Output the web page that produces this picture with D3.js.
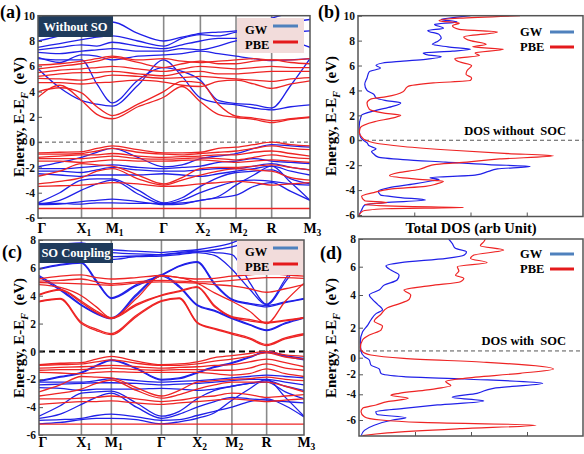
<!DOCTYPE html>
<html><head><meta charset="utf-8">
<script src="https://cdn.jsdelivr.net/npm/d3@7"></script>
<style>body{margin:0;background:#fff}</style>
</head><body><svg id="c" width="584" height="454" xmlns="http://www.w3.org/2000/svg"></svg>
<script>
// ---------- data ----------
const kLabels = [["Γ",""],["X","1"],["M","1"],["Γ",""],["X","2"],["M","2"],["R",""],["M","3"]];
const kTicks = [0, 0.16, 0.273, 0.462, 0.597, 0.728, 0.859, 1];
// sample k-positions (high-symmetry points and segment midpoints)
const kSample = [0, 0.08, 0.16, 0.2165, 0.273, 0.3675, 0.462, 0.5295, 0.597, 0.6625, 0.728, 0.7935, 0.859, 0.9295, 1];
const yTicksA = [-6,-4,-2,0,2,4,6,8,10];
const yTicksC = [-6,-4,-2,0,2,4,6,8];
const yTicksD = [-6,-4,-2,0,2,4,6,8];
const legendNames = ["GW","PBE"];

// (a) without SO : PBE bands
const pbeBandsA = [
 [3.55,4.5,3.3,2.2,1.85,2.8,3.55,4.4,3.2,2.2,1.95,1.8,1.55,1.8,1.95],
 [4.0,4.3,3.9,2.8,2.1,3.0,4.0,4.8,4.7,3.0,2.05,1.9,1.7,1.85,2.0],
 [4.7,4.7,4.6,4.7,4.75,4.9,4.75,4.5,4.4,4.8,4.9,4.6,4.25,4.6,4.85],
 [5.05,5.0,4.9,5.1,5.3,5.2,5.05,5.1,5.2,5.1,5.0,4.9,4.8,5.0,5.1],
 [5.2,5.4,5.5,5.5,5.6,5.4,5.25,5.5,5.6,5.4,5.4,5.5,5.6,5.6,5.6],
 [5.5,5.7,5.8,5.9,6.0,5.8,5.6,5.8,6.0,5.9,5.8,5.9,6.0,5.9,5.9],
 [5.8,6.0,6.2,6.4,6.7,6.3,5.9,6.2,6.4,6.2,6.2,6.4,6.5,6.3,6.2],
 [6.1,6.2,6.4,6.6,6.8,6.5,6.6,6.4,6.3,6.4,6.5,6.6,6.5,6.5,6.6],
 [-0.85,-0.8,-0.75,-0.5,-0.3,-0.6,-0.85,-0.85,-0.8,-0.5,-0.4,-0.2,0.0,-0.2,-0.3],
 [-0.95,-0.95,-0.9,-0.7,-0.5,-0.8,-0.95,-1.0,-0.9,-0.8,-0.7,-0.5,-0.3,-0.5,-0.6],
 [-1.2,-1.1,-1.0,-1.0,-0.9,-1.1,-1.2,-1.15,-1.1,-1.0,-1.0,-0.8,-0.7,-0.9,-1.1],
 [-1.3,-1.3,-1.3,-1.2,-1.1,-1.3,-1.35,-1.3,-1.25,-1.3,-1.4,-1.2,-1.0,-1.2,-1.3],
 [-1.5,-1.5,-1.6,-1.5,-1.4,-1.5,-1.5,-1.45,-1.4,-1.5,-1.6,-1.5,-1.4,-1.5,-1.6],
 [-2.7,-2.3,-1.7,-1.8,-1.9,-2.6,-3.3,-2.8,-2.1,-2.0,-2.0,-1.9,-1.8,-2.0,-2.2],
 [-3.3,-3.1,-2.8,-2.3,-2.1,-2.9,-3.4,-3.0,-2.6,-2.3,-2.1,-2.2,-2.3,-2.8,-3.0],
 [-3.5,-3.45,-3.4,-3.3,-3.2,-3.3,-3.5,-3.45,-3.3,-3.2,-3.1,-3.2,-3.4,-3.3,-3.2],
 [-5.25,-5.25,-5.25,-5.25,-5.25,-5.25,-5.25,-5.25,-5.25,-5.25,-5.25,-5.25,-5.25,-5.25,-5.25]
];
// (a) without SO : GW bands
const gwBandsA = [
 [5.8,4.3,3.3,3.0,2.85,4.5,6.5,5.2,3.5,3.1,2.95,2.7,2.55,2.8,2.95],
 [6.6,6.5,6.5,4.6,3.1,4.9,5.9,5.6,4.9,3.3,3.05,2.95,2.7,4.5,6.6],
 [6.7,6.3,6.9,6.8,6.5,6.8,6.9,7.0,7.2,7.0,6.8,6.6,6.45,6.5,6.6],
 [7.1,7.0,7.2,7.3,7.4,7.2,7.2,7.4,7.3,7.6,8.0,8.2,8.3,8.0,7.5],
 [7.3,7.5,7.7,7.6,7.9,7.6,7.4,7.7,8.0,8.2,8.2,8.4,8.6,8.7,8.8],
 [7.5,7.8,8.1,8.3,8.4,8.0,7.6,8.2,8.5,8.4,8.7,8.9,9.2,9.5,9.7],
 [8.0,8.4,9.0,9.3,9.5,8.6,8.0,8.3,8.6,8.7,8.8,9.2,9.8,10.2,10.5],
 [-1.95,-1.6,-1.2,-0.8,-0.5,-1.2,-1.95,-1.8,-1.3,-1.1,-0.9,-0.5,-0.2,-0.3,-0.4],
 [-2.1,-2.1,-2.0,-1.9,-1.8,-2.0,-2.1,-2.0,-1.9,-1.6,-1.5,-1.3,-1.5,-1.6,-1.7],
 [-2.3,-2.3,-2.4,-2.2,-2.0,-2.2,-2.3,-2.3,-2.2,-2.1,-2.1,-1.9,-1.7,-2.0,-2.2],
 [-2.5,-2.6,-2.7,-2.6,-2.6,-2.6,-2.5,-2.6,-2.7,-2.5,-2.3,-2.1,-1.9,-2.3,-2.6],
 [-4.8,-4.0,-3.0,-2.9,-2.9,-3.8,-4.8,-4.4,-3.5,-2.8,-2.4,-2.3,-2.2,-2.9,-3.3],
 [-4.9,-4.6,-3.8,-3.3,-3.0,-4.1,-4.9,-4.6,-4.0,-3.5,-3.1,-3.0,-3.1,-3.3,-3.4],
 [-4.95,-4.9,-4.7,-4.6,-4.5,-4.7,-4.95,-4.9,-4.6,-4.4,-4.2,-3.5,-3.2,-3.9,-4.6],
 [-4.85,-4.85,-4.9,-4.8,-4.8,-4.85,-4.85,-4.8,-4.6,-4.3,-3.4,-2.6,-1.9,-3.2,-4.6]
];
// (c) SO coupling : PBE bands
const pbeBandsC = [
 [3.55,3.75,2.0,1.5,1.2,2.5,3.6,3.8,2.05,1.6,1.25,0.9,0.42,0.9,1.2],
 [3.6,3.8,2.1,1.6,1.28,2.6,3.65,3.85,2.1,1.65,1.32,0.98,0.5,0.98,1.27],
 [4.05,4.4,3.5,2.8,2.35,3.3,4.0,4.3,4.6,3.2,2.45,2.2,2.05,2.2,2.4],
 [4.1,4.45,3.6,2.9,2.42,3.4,4.05,4.35,4.65,3.3,2.5,2.3,2.1,2.25,2.45],
 [4.8,4.6,4.0,3.2,2.4,3.8,5.4,5.3,4.9,4.2,3.6,2.9,2.0,3.6,4.9],
 [4.95,4.9,4.85,4.8,4.75,4.9,5.0,4.95,4.9,4.8,4.7,4.5,4.25,4.5,4.8],
 [5.05,5.1,5.2,5.0,4.85,5.0,5.1,5.05,5.0,5.0,5.1,5.2,5.3,5.3,5.25],
 [5.2,5.4,5.5,5.3,5.2,5.3,5.45,5.3,5.2,5.25,5.4,5.5,5.6,5.5,5.4],
 [-0.95,-0.85,-0.8,-0.55,-0.35,-0.7,-0.95,-0.9,-0.75,-0.45,-0.3,-0.15,0.0,-0.25,-0.35],
 [-1.0,-0.95,-0.9,-0.75,-0.6,-0.85,-1.0,-1.0,-0.9,-0.7,-0.55,-0.35,-0.1,-0.4,-0.55],
 [-1.2,-1.15,-1.1,-1.05,-1.0,-1.1,-1.2,-1.15,-1.1,-1.0,-0.95,-0.75,-0.55,-0.8,-1.1],
 [-1.35,-1.3,-1.3,-1.25,-1.2,-1.3,-1.35,-1.3,-1.3,-1.35,-1.35,-1.2,-0.9,-1.2,-1.35],
 [-1.5,-1.55,-1.6,-1.5,-1.45,-1.5,-1.5,-1.5,-1.5,-1.6,-1.7,-1.6,-1.25,-1.6,-1.8],
 [-2.9,-2.4,-1.8,-1.85,-1.9,-2.6,-3.2,-2.8,-2.2,-2.1,-2.0,-1.95,-1.85,-2.0,-2.1],
 [-3.2,-3.0,-2.7,-2.3,-2.05,-2.8,-3.35,-3.1,-2.7,-2.4,-2.2,-2.2,-2.2,-2.5,-2.9],
 [-3.4,-3.4,-3.35,-3.3,-3.2,-3.4,-3.6,-3.5,-3.3,-3.2,-3.0,-3.1,-3.3,-3.2,-3.1],
 [-3.8,-3.7,-3.6,-3.6,-3.55,-3.7,-3.8,-3.7,-3.6,-3.5,-3.4,-3.5,-3.6,-3.5,-3.4],
 [-5.22,-5.22,-5.22,-5.22,-5.22,-5.22,-5.22,-5.22,-5.22,-5.22,-5.22,-5.22,-5.22,-5.22,-5.22]
];
// (c) SO coupling : GW bands
const gwBandsC = [
 [5.35,4.4,3.3,2.7,2.35,4.0,5.4,4.6,3.3,2.9,2.35,1.9,1.5,2.0,2.4],
 [5.45,4.5,3.35,2.75,2.42,4.1,5.5,4.7,3.35,2.95,2.42,1.95,1.55,2.05,2.45],
 [5.9,6.2,6.35,5.0,3.8,4.7,5.45,6.1,6.4,4.8,3.7,3.4,3.2,3.5,3.75],
 [5.95,6.25,6.4,5.1,3.85,4.8,5.5,6.15,6.45,4.9,3.75,3.45,3.3,3.55,3.8],
 [6.8,6.7,6.6,6.65,6.6,6.8,6.85,6.95,7.1,6.9,5.9,4.5,3.35,5.0,6.9],
 [7.0,7.1,7.2,6.9,6.8,6.85,6.95,7.1,7.2,7.1,6.95,5.0,3.4,5.2,7.3],
 [7.3,7.35,7.4,7.2,7.1,7.0,6.95,7.05,7.15,7.3,7.5,7.9,8.2,8.5,8.7],
 [7.6,7.7,7.8,7.5,7.3,7.2,7.1,7.2,7.3,7.5,7.8,8.3,8.8,9.0,9.2],
 [-2.1,-1.8,-1.5,-1.0,-0.6,-1.2,-2.0,-1.9,-1.5,-1.1,-0.8,-0.4,0.0,-0.3,-0.5],
 [-2.15,-1.85,-1.55,-1.05,-0.65,-1.25,-2.05,-1.95,-1.55,-1.15,-0.85,-0.45,-0.05,-0.35,-0.6],
 [-2.2,-2.2,-2.2,-2.1,-1.95,-2.1,-2.2,-2.15,-2.1,-2.0,-1.9,-1.8,-1.7,-1.8,-1.9],
 [-2.4,-2.35,-2.3,-2.25,-2.25,-2.3,-2.4,-2.35,-2.3,-2.2,-2.1,-2.0,-2.0,-2.2,-2.4],
 [-2.6,-2.65,-2.8,-2.7,-2.7,-2.7,-2.65,-2.7,-2.8,-2.7,-2.5,-2.3,-2.1,-2.5,-2.8],
 [-4.65,-3.9,-3.0,-2.9,-2.85,-3.7,-4.65,-4.3,-3.4,-2.8,-2.5,-2.3,-2.2,-2.9,-3.4],
 [-4.8,-4.5,-3.8,-3.3,-3.0,-4.0,-4.8,-4.5,-4.0,-3.6,-3.3,-3.4,-3.5,-3.6,-3.7],
 [-4.95,-4.9,-4.8,-4.6,-4.5,-4.7,-4.95,-4.9,-4.6,-4.3,-4.0,-3.6,-3.4,-3.9,-4.7],
 [-5.2,-5.1,-4.9,-4.8,-4.8,-4.9,-5.2,-5.05,-4.8,-4.4,-3.5,-2.7,-2.0,-3.3,-4.65]
];
// (b) DOS without SOC  [energy, DOS (arb)]
const gwDosB = [[-6.0,0.5],[-5.6,1.6],[-5.2,3],[-5.0,12],[-4.8,30],[-4.6,19],[-4.4,10],[-4.1,9],[-3.8,14],[-3.5,25],[-3.25,33],[-3.15,36],[-3.0,32],[-2.8,52],[-2.5,58],[-2.3,62],[-2.1,76.5],[-1.95,58],[-1.75,39],[-1.55,20],[-1.35,9],[-1.1,7],[-0.9,6],[-0.7,8],[-0.45,5],[-0.2,4],[0,2.4],[0.3,1],[1.0,0.5],[2.0,1.5],[2.4,8],[2.7,15],[3.0,19],[3.2,12],[3.4,8],[3.7,7],[4.0,4],[4.5,3],[5.0,4],[5.5,5],[5.8,10],[6.0,8],[6.2,11],[6.35,20],[6.5,30],[6.7,37],[6.85,31],[7.0,29],[7.15,42],[7.3,50],[7.5,40],[7.7,33],[7.9,35],[8.2,37],[8.5,36],[8.8,31],[9.0,38],[9.3,34],[9.5,44],[9.7,37],[9.9,45],[10,50]];
const pbeDosB = [[-6.0,0.5],[-5.7,2],[-5.5,12],[-5.4,47],[-5.3,20],[-5.15,3],[-5.0,13],[-4.85,3],[-4.5,1.6],[-4.2,7],[-3.9,15],[-3.7,30],[-3.5,35],[-3.3,38],[-3.1,25],[-2.85,14],[-2.6,18],[-2.35,27],[-2.1,31],[-1.95,34],[-1.8,45],[-1.5,63],[-1.25,87],[-1.05,65],[-0.8,42],[-0.5,20],[-0.2,7],[0,3.5],[0.3,1.5],[0.6,0.6],[1.0,1],[1.5,7.5],[1.8,15.7],[2.0,19],[2.2,11],[2.5,5],[3.0,4],[3.3,5.5],[3.5,12.7],[3.9,20],[4.3,22],[4.6,33.5],[4.8,50],[5.0,50.5],[5.3,48],[5.6,48.5],[6.0,50.5],[6.3,45],[6.55,43],[6.8,54],[7.0,52],[7.3,64.6],[7.5,51],[7.7,57],[8.0,50],[8.3,47],[8.7,62],[8.9,45],[9.2,42],[9.4,45],[9.6,36],[9.8,45],[10,72]];
// (d) DOS with SOC
const gwDosD = [[-7.17,1],[-6.78,2.4],[-6.39,6.8],[-6.0,15],[-5.82,21],[-5.56,8],[-5.35,7.5],[-5.09,20],[-4.83,35],[-4.52,55.7],[-4.23,41.6],[-3.9,52.7],[-3.4,60],[-2.9,82],[-2.47,47],[-2.23,20],[-1.88,9.8],[-1.36,9],[-0.88,5.3],[-0.28,4.6],[0.07,2.4],[0.44,0.9],[1.07,0.6],[1.73,1.6],[2.16,3.9],[2.47,5.3],[2.86,7.6],[3.1,10.5],[3.43,8.3],[3.73,6],[4.0,4.6],[4.35,9],[4.7,11.3],[5.06,17],[5.4,17.9],[5.76,14.2],[6.07,12],[6.3,18.7],[6.6,39],[6.84,47],[7.08,48],[7.33,43],[7.69,41.6],[8,40]];
const pbeDosD = [[-7.17,1.6],[-6.96,12.7],[-6.65,45],[-6.39,79],[-6.18,27.5],[-6.0,9.8],[-5.74,2.4],[-5.35,0.9],[-5.09,1.6],[-4.83,7.6],[-4.57,12.7],[-4.31,22],[-4.07,14.2],[-3.9,17.9],[-3.56,30.5],[-3.13,41],[-2.73,38.7],[-2.4,47],[-1.88,72],[-1.36,86.8],[-0.56,57],[-0.08,20],[0.18,5.3],[0.4,1.6],[0.67,0.6],[1.18,1.6],[1.51,4.6],[1.84,9.8],[2.1,10.5],[2.39,6.8],[2.82,9.8],[3.22,12.7],[3.43,17.2],[3.73,22.4],[4.0,23.1],[4.35,20.1],[4.66,32],[4.94,45.3],[5.18,46.8],[5.4,43.1],[5.69,44.6],[6.0,43.9],[6.3,57.2],[6.6,49.8],[6.84,51.3],[7.2,64.6],[7.52,54.2],[7.8,55.7],[8,56.4]];
const fermiLineD = 0.45;

// ---------- drawing ----------
const svg = d3.select("#c");
const FONT = "'Liberation Serif','Times New Roman',serif";
const BLUE = "#2020e8", RED = "#ee2424", LEG_BLUE = "#4f81bd", LEG_RED = "#e41a1c";

function yTitle(cx, cy) {
  const t = svg.append("text").attr("transform", `translate(${cx},${cy}) rotate(-90)`)
    .attr("text-anchor","middle").attr("font-family",FONT).attr("font-weight","bold").attr("font-size",15);
  t.append("tspan").text("Energy, E-E");
  t.append("tspan").attr("font-size",10).attr("font-style","italic").attr("dy",4).text("F");
  t.append("tspan").attr("dy",-4).text("\u00a0\u00a0(eV)");
}
function panelLabel(x, y, s) {
  svg.append("text").attr("x",x).attr("y",y).attr("font-family",FONT).attr("font-weight","bold")
    .attr("font-size",18).text(s);
}
function frame(b) {
  svg.append("rect").attr("x",b.l).attr("y",b.t).attr("width",b.r-b.l).attr("height",b.b-b.t)
    .attr("fill","none").attr("stroke","#555").attr("stroke-width",1.5);
}
function yAxis(y, b, ticks) {
  const ax = svg.append("g").attr("transform",`translate(${b.l},0)`)
    .call(d3.axisLeft(y).tickValues(ticks).tickSizeInner(-4).tickSizeOuter(0).tickPadding(3).tickFormat(d=>String(d)));
  ax.select(".domain").remove();
  ax.selectAll("line").attr("stroke","#555");
  ax.selectAll("text").attr("font-family",FONT).attr("font-weight","bold").attr("font-size",11.5).attr("fill","#111");
}
function legend(g, x, y1, y2, lx1, lx2, ly1, ly2) {
  [[legendNames[0],y1,ly1,LEG_BLUE],[legendNames[1],y2,ly2,LEG_RED]].forEach(([n,ty,ly,c])=>{
    g.append("text").attr("x",x).attr("y",ty).attr("font-family",FONT).attr("font-weight","bold").attr("font-size",12.5).text(n);
    g.append("line").attr("x1",lx1).attr("x2",lx2).attr("y1",ly).attr("y2",ly).attr("stroke",c).attr("stroke-width",3);
  });
}

function bandPanel(id, b, ydom, yticks, gw, pbe, tag, tagBox, zeroW, zeroDash, legY, labY) {
  const x = d3.scaleLinear().domain([0,1]).range([b.l, b.r]);
  const y = d3.scaleLinear().domain(ydom).range([b.b, b.t]);
  svg.append("clipPath").attr("id",id).append("rect").attr("x",b.l).attr("y",b.t).attr("width",b.r-b.l).attr("height",b.b-b.t);
  const g = svg.append("g").attr("clip-path",`url(#${id})`);
  kTicks.slice(1,-1).forEach(k => g.append("line").attr("x1",x(k)).attr("x2",x(k)).attr("y1",b.t).attr("y2",b.b)
    .attr("stroke","#8a8a8a").attr("stroke-width",1.6));
  g.append("line").attr("x1",b.l).attr("x2",b.r).attr("y1",y(0)).attr("y2",y(0))
    .attr("stroke",zeroW>1.5?"#000":"#555").attr("stroke-width",zeroW).attr("stroke-dasharray",zeroDash);
  const line = d3.line().x((d,i)=>x(kSample[i])).y(d=>y(d)).curve(d3.curveMonotoneX);
  gw.forEach(d => g.append("path").attr("d",line(d)).attr("fill","none").attr("stroke",BLUE).attr("stroke-width",1.3));
  pbe.forEach(d => g.append("path").attr("d",line(d)).attr("fill","none").attr("stroke",RED).attr("stroke-width",1.3));
  // tag box
  g.append("rect").attr("x",b.l).attr("y",tagBox[0]).attr("width",tagBox[1]).attr("height",tagBox[2]).attr("fill","#1f3b5c");
  g.append("text").attr("x",b.l+tagBox[1]/2).attr("y",tagBox[0]+tagBox[2]-6).attr("text-anchor","middle")
    .attr("font-family",FONT).attr("font-weight","bold").attr("font-size",12.5).attr("fill","#fff").text(tag);
  // legend box
  g.append("rect").attr("x",237).attr("y",legY).attr("width",67).attr("height",35).attr("fill","#f2dcdb");
  legend(g, 245, legY+16, legY+31, 273, 298, legY+8, legY+24);
  frame(b);
  yAxis(y, b, yticks);
  kLabels.forEach((l,i)=>{
    const cx = x(kTicks[i]) + (i===0?4:0);
    const t = svg.append("text").attr("x",cx).attr("y",labY).attr("text-anchor","middle")
      .attr("font-family",FONT).attr("font-weight","bold").attr("font-size",14).text(l[0]);
    if (l[1]) {
      const w = t.node().getComputedTextLength();
      svg.append("text").attr("x",cx + w/2).attr("y",labY+2.5).attr("font-family",FONT)
        .attr("font-weight","bold").attr("font-size",9.5).text(l[1]);
    }
  });
}

function dosPanel(id, b, y, yticks, gwD, pbeD, fermi, note, noteY, legY) {
  const x = d3.scaleLinear().domain([0,100]).range([b.l, b.r]);
  svg.append("clipPath").attr("id",id).append("rect").attr("x",b.l).attr("y",b.t).attr("width",b.r-b.l).attr("height",b.b-b.t);
  const g = svg.append("g").attr("clip-path",`url(#${id})`);
  g.append("line").attr("x1",b.l).attr("x2",b.r).attr("y1",y(fermi)).attr("y2",y(fermi))
    .attr("stroke","#555").attr("stroke-width",1).attr("stroke-dasharray","4,3");
  const line = d3.line().x(d=>x(d[1])).y(d=>y(d[0])).curve(d3.curveMonotoneY);
  g.append("path").attr("d",line(gwD)).attr("fill","none").attr("stroke",BLUE).attr("stroke-width",1.2);
  g.append("path").attr("d",line(pbeD)).attr("fill","none").attr("stroke",RED).attr("stroke-width",1.2);
  g.append("text").attr("x",566).attr("y",noteY).attr("text-anchor","end").attr("font-family",FONT)
    .attr("font-weight","bold").attr("font-size",12.5).attr("xml:space","preserve").text(note);
  legend(g, 520, legY+4, legY+19, 550, 574, legY, legY+15);
  frame(b);
  yAxis(y, b, yticks);
  const bx = svg.append("g").attr("transform",`translate(0,${b.b})`)
    .call(d3.axisBottom(x).tickValues([25,50,75]).tickSizeInner(-4).tickSizeOuter(0).tickFormat(""));
  bx.select(".domain").remove();
  bx.selectAll("line").attr("stroke","#555");
}

// panel (a)
const bA = {l:38, r:310, t:15.7, b:218};
bandPanel("clipA", bA, [-6,10], yTicksA, gwBandsA, pbeBandsA, "Without SO", [16,75,21], 1, "4,3", 18, 233);
// panel (c)
const bC = {l:39, r:304, t:240, b:435};
bandPanel("clipC", bC, [-6,8], yTicksC, gwBandsC, pbeBandsC, "SO Coupling", [243,74,20], 2, "6,4", 240, 447);
// panel (b)
const bB = {l:358, r:583, t:15.7, b:216.5};
const yB = d3.scaleLinear().domain([-6,10]).range([215,15.7]);
dosPanel("clipB", bB, yB, yTicksA, gwDosB, pbeDosB, 0, "DOS without  SOC", 135, 32);
// panel (d)
const bD = {l:359, r:583, t:239, b:436};
const yD = d3.scaleLinear().domain([-7.2,-6,-4,-2,0,2,4,6,8]).range([436,420,394.3,374.3,357.7,327.7,295,266.7,239]);
dosPanel("clipD", bD, yD, yTicksD, gwDosD, pbeDosD, fermiLineD, "DOS with  SOC", 345, 254);

yTitle(24, 117);
yTitle(24, 338);
yTitle(336, 116);
yTitle(336, 338);
panelLabel(0, 18, "(a)");
panelLabel(318, 18, "(b)");
panelLabel(2, 258, "(c)");
panelLabel(320, 259, "(d)");
svg.append("text").attr("x",471).attr("y",233).attr("text-anchor","middle").attr("font-family",FONT)
  .attr("font-weight","bold").attr("font-size",14.5).text("Total DOS (arb Unit)");
</script></body></html>
